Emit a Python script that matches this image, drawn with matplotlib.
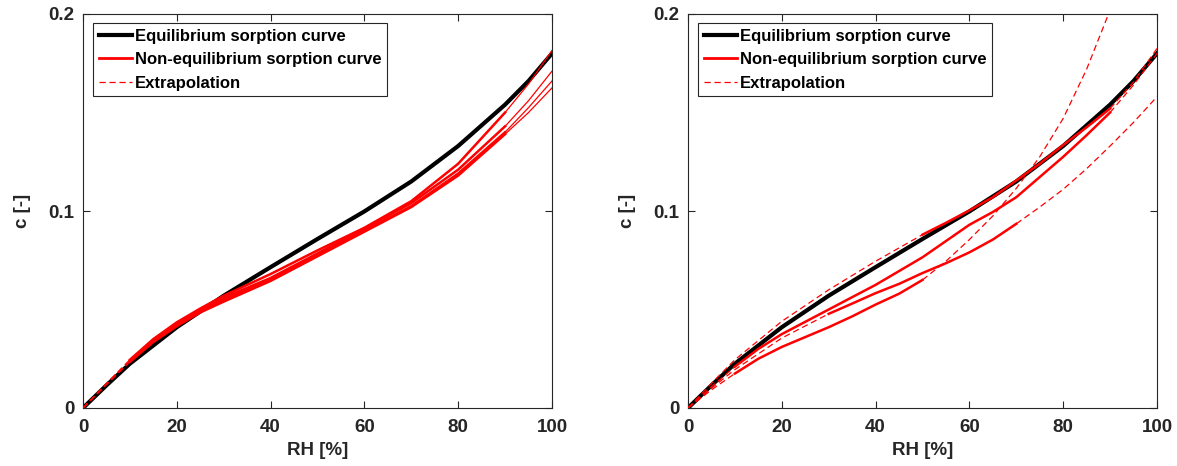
import numpy as np
import matplotlib
matplotlib.use("Agg")
import matplotlib.pyplot as plt

plt.rcParams['font.family'] = ['Liberation Sans', 'DejaVu Sans']
plt.rcParams['font.weight'] = 'bold'

# ---------------- data ----------------
# Equilibrium sorption curve (both panels)
eq_rh = [0, 5, 10, 20, 30, 40, 50, 60, 70, 80, 90, 95, 100]
eq_c = [0, 0.0115, 0.0225, 0.041, 0.057, 0.0715, 0.0858, 0.0998, 0.115, 0.133, 0.154, 0.166, 0.180]

# Left panel: non-equilibrium curves (10-90 %)
left_rh = [10, 15, 20, 25, 30, 40, 50, 60, 70, 80, 90]
left_c = [
    [0.0245, 0.035, 0.0435, 0.0505, 0.057, 0.068, 0.080, 0.0915, 0.105, 0.124, 0.150],
    [0.0240, 0.0345, 0.0430, 0.0500, 0.056, 0.066, 0.0785, 0.091, 0.104, 0.121, 0.143],
    [0.0235, 0.034, 0.0420, 0.0490, 0.055, 0.065, 0.0775, 0.090, 0.1025, 0.119, 0.140],
    [0.0235, 0.0335, 0.0415, 0.0485, 0.054, 0.0645, 0.077, 0.0895, 0.102, 0.118, 0.139],
]
# Left panel extrapolations
left_ext_lo_rh = [0, 5, 10]
left_ext_lo_c = [
    [0, 0.0125, 0.0245],
    [0, 0.0122, 0.0240],
    [0, 0.0120, 0.0235],
    [0, 0.0120, 0.0235],
]
left_ext_hi_rh = [90, 95, 100]
left_ext_hi_c = [
    [0.150, 0.1645, 0.1815],
    [0.143, 0.156, 0.171],
    [0.140, 0.1525, 0.166],
    [0.139, 0.150, 0.1625],
]

# Right panel: non-equilibrium curves
r1_rh = [50, 55, 60, 65, 70, 75, 80, 85, 90]
r1_c = [0.088, 0.094, 0.1003, 0.107, 0.1155, 0.124, 0.1335, 0.1425, 0.152]
r2_rh = [10, 15, 20, 30, 40, 50, 60, 65, 70, 80, 85, 90]
r2_c = [0.021, 0.030, 0.0375, 0.050, 0.0625, 0.0765, 0.093, 0.0995, 0.107, 0.1275, 0.1385, 0.150]
r3_rh = [30, 35, 40, 45, 50, 55, 60, 65, 70]
r3_c = [0.0478, 0.053, 0.0583, 0.063, 0.0685, 0.0735, 0.079, 0.0855, 0.0935]
r4_rh = [10, 15, 20, 25, 30, 35, 40, 45, 50]
r4_c = [0.0175, 0.025, 0.031, 0.036, 0.041, 0.0465, 0.0525, 0.058, 0.065]

# Right panel extrapolations
r1_lo_rh = [0, 5, 10, 20, 30, 40, 50]
r1_lo_c = [0, 0.0125, 0.0245, 0.044, 0.060, 0.0745, 0.088]
r1_hi_rh = [90, 95, 100]
r1_hi_c = [0.152, 0.1655, 0.1825]
r2_lo_rh = [0, 5, 10]
r2_lo_c = [0, 0.0108, 0.021]
r2_hi_rh = [90, 95, 100]
r2_hi_c = [0.150, 0.164, 0.180]
r3_lo_rh = [0, 5, 10, 20, 30]
r3_lo_c = [0, 0.0100, 0.0195, 0.0355, 0.0478]
r3_hi_rh = [70, 75, 80, 85, 90, 95, 100]
r3_hi_c = [0.0935, 0.102, 0.111, 0.1215, 0.133, 0.145, 0.158]
r4_lo_rh = [0, 5, 10]
r4_lo_c = [0, 0.0092, 0.0175]
r4_hi_rh = [50, 55, 60, 65, 70, 75, 80, 85, 90, 92]
r4_hi_c = [0.065, 0.0745, 0.0855, 0.0975, 0.1115, 0.1275, 0.147, 0.172, 0.202, 0.214]

xticks = [0, 20, 40, 60, 80, 100]
yticks = [0, 0.1, 0.2]
ytick_labels = ['0', '0.1', '0.2']

# ---------------- styling ----------------
W, H = 1177, 466
fig = plt.figure(figsize=(W / 100, H / 100), dpi=100)
axcol = '#262626'
RED = '#ff0000'
DASH = (0, (5, 3))

ax_l = fig.add_axes([83 / W, (H - 408) / H, (552 - 83) / W, (408 - 14) / H])
ax_r = fig.add_axes([688 / W, (H - 408) / H, (1157 - 688) / W, (408 - 14) / H])


def style(ax):
    ax.set_xlim(0, 100)
    ax.set_ylim(0, 0.2)
    ax.set_xticks(xticks)
    ax.set_yticks(yticks)
    ax.set_yticklabels(ytick_labels)
    ax.tick_params(direction='in', top=True, right=True, length=5, width=0.8,
                   colors=axcol, labelsize=13.5)
    ax.tick_params(axis='x', pad=8)
    ax.tick_params(axis='y', pad=6)
    for lab in ax.get_xticklabels() + ax.get_yticklabels():
        lab.set_fontweight('bold')
    for s in ax.spines.values():
        s.set_color(axcol)
        s.set_linewidth(0.8)
    ax.set_xlabel('RH [%]', fontsize=13.5, fontweight='bold', color=axcol, labelpad=4)
    ax.set_ylabel('c [-]', fontsize=13.5, fontweight='bold', color=axcol, labelpad=13)


def legend(ax):
    h1, = ax.plot([], [], color='black', lw=3)
    h2, = ax.plot([], [], color=RED, lw=2)
    h3, = ax.plot([], [], color=RED, lw=0.9, ls=DASH)
    leg = ax.legend([h1, h2, h3],
                    ['Equilibrium sorption curve', 'Non-equilibrium sorption curve', 'Extrapolation'],
                    loc='upper left', bbox_to_anchor=(0.021, 0.977), fancybox=False,
                    framealpha=1, edgecolor=axcol, handlelength=2.0, handletextpad=0.15,
                    borderpad=0.35, labelspacing=0.5, borderaxespad=0,
                    prop={'weight': 'bold', 'size': 12})
    leg.get_frame().set_linewidth(0.8)


# ---------------- left panel ----------------
ax_l.plot(eq_rh, eq_c, color='black', lw=3, zorder=2)
for c in left_c:
    ax_l.plot(left_rh, c, color=RED, lw=1.8, zorder=3)
for c in left_ext_lo_c:
    ax_l.plot(left_ext_lo_rh, c, color=RED, lw=0.9, ls=DASH, zorder=3)
for c in left_ext_hi_c:
    ax_l.plot(left_ext_hi_rh, c, color=RED, lw=0.9, zorder=3)
style(ax_l)
legend(ax_l)

# ---------------- right panel ----------------
ax_r.plot(eq_rh, eq_c, color='black', lw=3, zorder=2)
for rh, c in [(r1_rh, r1_c), (r2_rh, r2_c), (r3_rh, r3_c), (r4_rh, r4_c)]:
    ax_r.plot(rh, c, color=RED, lw=1.8, zorder=3)
for rh, c in [(r1_lo_rh, r1_lo_c), (r1_hi_rh, r1_hi_c), (r2_lo_rh, r2_lo_c), (r2_hi_rh, r2_hi_c),
              (r3_lo_rh, r3_lo_c), (r3_hi_rh, r3_hi_c), (r4_lo_rh, r4_lo_c), (r4_hi_rh, r4_hi_c)]:
    ax_r.plot(rh, c, color=RED, lw=0.9, ls=DASH, zorder=3)
style(ax_r)
legend(ax_r)

fig.savefig('out.png', dpi=100)
